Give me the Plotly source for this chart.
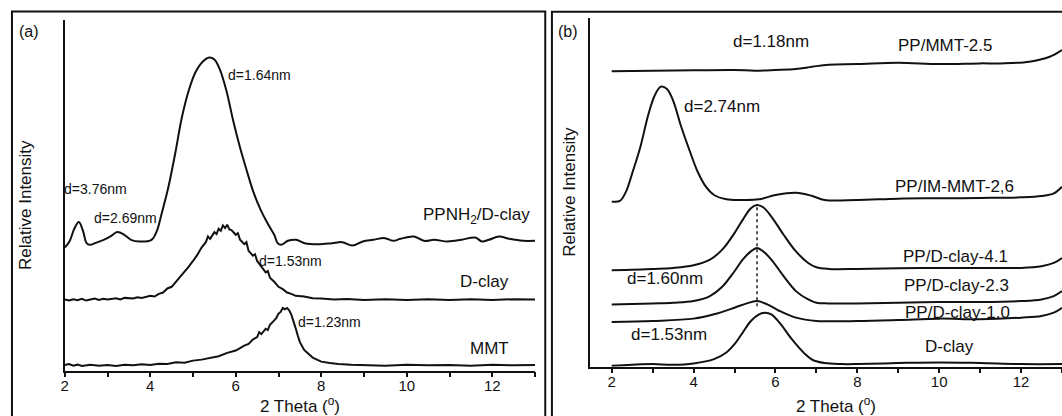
import plotly.graph_objects as go

FONT = "Liberation Sans, Arial, Helvetica, sans-serif"

# ---------------- Panel (a) data : 2 Theta (deg) vs relative intensity ----------------
a_ppnh2_x = [2.0, 2.11, 2.23, 2.33, 2.43, 2.51, 2.59, 2.71, 2.91, 3.07, 3.23, 3.39, 3.55, 3.75,
             4.03, 4.15, 4.26, 4.42, 4.58, 4.74, 4.90, 5.06, 5.22, 5.38, 5.50, 5.62, 5.78, 5.94,
             6.10, 6.26, 6.42, 6.58, 6.74, 6.90, 6.98, 7.06, 7.22, 7.41, 7.61, 7.93, 8.25, 8.49,
             8.73, 8.97, 9.21, 9.49, 9.69, 9.85, 10.17, 10.40, 10.64, 10.96, 11.28, 11.60, 11.76,
             11.92, 12.16, 12.40, 12.72, 13.0]
a_ppnh2_y = [36.7, 38.5, 42.5, 44.3, 41.5, 38.0, 37.5, 38.0, 39.0, 40.0, 41.3, 40.5, 39.0, 38.5,
             39.0, 41.5, 46.5, 54.5, 64.5, 75.5, 83.5, 89.0, 92.0, 93.3, 92.7, 90.0, 83.5, 74.5,
             66.5, 59.5, 53.0, 48.0, 44.0, 40.5, 38.0, 37.5, 38.7, 39.0, 38.0, 37.7, 38.0, 38.3,
             37.3, 38.5, 39.0, 39.5, 38.7, 39.3, 40.0, 38.7, 39.0, 38.5, 39.0, 39.7, 38.5,
             39.0, 40.0, 39.3, 38.7, 38.7]

a_dclay_x = [2.0, 2.1, 2.2, 2.3, 2.4, 2.5, 2.6, 2.7, 2.8, 2.9, 3.0, 3.2, 3.3, 3.4, 3.6, 3.7, 3.8,
             4.0, 4.1, 4.2, 4.3, 4.4, 4.5, 4.6, 4.7, 4.8, 4.9, 5.0, 5.1, 5.2, 5.3, 5.35, 5.4, 5.5,
             5.55, 5.6, 5.65, 5.7, 5.75, 5.8, 5.85, 5.9, 6.0, 6.05, 6.1, 6.2, 6.25, 6.3, 6.4, 6.45,
             6.5, 6.6, 6.7, 6.75, 6.8, 6.9, 7.0, 7.1, 7.2, 7.3, 7.4, 7.6, 7.8, 8.0, 8.3, 8.6, 9.0,
             9.5, 10.0, 10.5, 11.0, 11.5, 12.0, 12.5, 13.0]
a_dclay_y = [21.2, 20.9, 21.3, 21.0, 21.4, 20.9, 21.2, 21.5, 21.1, 21.4, 21.2, 21.6, 21.2, 21.7,
             21.5, 21.9, 21.7, 22.3, 22.1, 22.9, 23.3, 24.5, 25.0, 26.5, 27.7, 29.5, 31.0, 32.7,
             34.5, 36.7, 38.3, 40.0, 39.3, 41.3, 40.7, 42.3, 41.7, 43.3, 42.5, 43.5, 42.1, 41.9,
             40.5, 41.0, 39.0, 37.7, 38.3, 35.7, 34.3, 34.7, 32.7, 31.0, 29.3, 29.7, 27.7, 26.5,
             25.0, 24.3, 23.3, 22.9, 22.3, 22.1, 21.6, 21.5, 21.2, 21.4, 21.1, 21.3, 21.1, 21.3,
             21.1, 21.3, 21.1, 21.3, 21.2]

a_mmt_x = [2.0, 2.1, 2.2, 2.3, 2.4, 2.6, 2.8, 3.0, 3.2, 3.4, 3.6, 3.8, 4.0, 4.2, 4.4, 4.6, 4.8,
           5.0, 5.2, 5.4, 5.6, 5.8, 6.0, 6.1, 6.2, 6.3, 6.4, 6.5, 6.55, 6.6, 6.7, 6.75, 6.8, 6.9,
           6.95, 7.0, 7.05, 7.1, 7.15, 7.2, 7.25, 7.3, 7.35, 7.4, 7.45, 7.5, 7.6, 7.7, 7.8, 7.9,
           8.0, 8.2, 8.4, 8.7, 9.0, 9.5, 10.0, 10.5, 11.0, 11.5, 12.0, 12.5, 13.0]
a_mmt_y = [1.7, 2.0, 1.5, 1.8, 1.4, 1.8, 1.5, 1.7, 1.4, 1.8, 1.6, 1.9, 1.7, 2.1, 2.0, 2.5, 2.4,
           3.0, 3.3, 3.9, 4.3, 5.3, 6.0, 6.7, 7.5, 8.0, 9.3, 10.0, 11.5, 10.9, 12.5, 12.1, 13.7,
           15.0, 15.7, 17.0, 17.5, 18.7, 18.3, 18.7, 18.0, 16.7, 15.0, 12.7, 10.5, 8.5, 6.2, 4.9,
           3.9, 3.3, 2.7, 2.3, 2.0, 1.8, 1.7, 1.5, 1.8, 1.6, 1.7, 1.5, 1.8, 1.6, 1.7]

a_labels = ["d=3.76nm", "d=2.69nm", "d=1.64nm", "PPNH<sub>2</sub>/D-clay", "D-clay",
            "d=1.53nm", "d=1.23nm", "MMT"]
a_label_x = [2.73, 3.43, 6.56, 11.63, 11.83, 7.28, 8.19, 11.93]
a_label_y = [54.0, 45.5, 88.0, 46.0, 26.7, 32.7, 14.5, 6.5]
a_label_size = [14, 14, 14, 17, 17, 14, 14, 17]

# ---------------- Panel (b) data ----------------
b_mmt25_x = [2.0, 3.0, 4.0, 5.0, 5.5, 6.0, 6.5, 6.9, 7.3, 8.0, 9.0, 10.0, 11.0, 11.5, 12.2, 12.7, 13.0]
b_mmt25_y = [89.1, 89.3, 89.4, 89.5, 89.3, 89.5, 89.8, 90.5, 91.1, 91.3, 91.7, 91.3, 91.5, 91.5,
             92.0, 93.5, 95.5]

b_im_x = [2.0, 2.2, 2.35, 2.5, 2.7, 2.9, 3.05, 3.2, 3.35, 3.5, 3.7, 3.9, 4.1, 4.3, 4.5, 4.8, 5.2,
          5.6, 6.0, 6.5, 6.9, 7.2, 8.0, 9.0, 10.0, 11.0, 12.0, 12.5, 12.8, 13.0]
b_im_y = [49.8, 50.0, 52.8, 58.3, 66.3, 76.3, 81.8, 84.5, 83.8, 80.3, 72.3, 65.3, 58.8, 54.3,
          51.8, 50.5, 50.3, 50.5, 51.8, 52.5, 51.5, 50.3, 50.3, 50.7, 50.8, 50.9, 51.1, 51.5,
          52.3, 54.3]

b_dc_x = [2.0, 3.0, 3.5, 4.0, 4.4, 4.7, 5.0, 5.2, 5.4, 5.55, 5.7, 5.9, 6.2, 6.5, 6.8, 7.0, 7.3,
          8.0, 9.0, 10.0, 11.0, 12.0, 12.5, 12.8, 13.0]
b_dc41_y = [29.1, 29.5, 29.8, 30.6, 32.3, 35.3, 40.3, 44.3, 47.8, 48.8, 48.1, 45.3, 39.8, 34.8,
            31.3, 30.0, 29.5, 29.5, 29.7, 29.8, 29.8, 29.8, 30.3, 31.3, 32.8]
b_dc23_y = [18.8, 19.1, 19.3, 19.8, 21.3, 24.1, 28.8, 32.3, 34.8, 35.8, 34.8, 32.3, 27.3, 22.8,
            20.3, 19.3, 19.1, 19.1, 19.3, 19.5, 19.5, 19.8, 20.3, 21.3, 22.8]

b_dc10_x = [2.0, 3.0, 4.0, 4.5, 5.0, 5.3, 5.55, 5.8, 6.1, 6.5, 7.0, 8.0, 9.0, 10.0, 11.0, 12.0,
            12.5, 12.8, 13.0]
b_dc10_y = [13.5, 13.8, 14.5, 15.8, 17.8, 19.1, 19.8, 18.8, 16.8, 14.8, 13.8, 13.8, 14.1, 14.5,
            14.3, 14.8, 15.3, 16.3, 17.8]

b_dclay_x = [2.0, 2.5, 3.0, 3.5, 4.0, 4.5, 4.8, 5.0, 5.2, 5.4, 5.6, 5.75, 5.9, 6.1, 6.4, 6.7,
             6.9, 7.2, 7.6, 8.0, 9.0, 10.0, 11.0, 12.0, 13.0]
b_dclay_y = [0.3, 0.6, 0.8, 0.6, 1.0, 2.3, 4.3, 6.8, 10.3, 13.8, 15.8, 16.3, 15.8, 13.3, 8.3,
             4.1, 2.1, 1.1, 0.8, 0.8, 1.1, 1.3, 1.1, 0.8, 0.8]

b_guide_x = [5.55, 5.55]
b_guide_y = [48.1, 17.3]

b_labels = ["d=1.18nm", "PP/MMT-2.5", "d=2.74nm", "PP/IM-MMT-2,6", "PP/D-clay-4.1",
            "d=1.60nm", "PP/D-clay-2.3", "PP/D-clay-1.0", "d=1.53nm", "D-clay"]
b_label_x = [5.9, 10.15, 4.7, 10.38, 10.39, 3.29, 10.42, 10.45, 3.40, 10.24]
b_label_y = [98.1, 96.8, 78.5, 54.3, 33.3, 26.5, 24.5, 16.3, 9.8, 6.0]

x_tick_vals = [2, 4, 6, 8, 10, 12]

# ---------------- Figure ----------------
W, H = 1062, 416
fig = go.Figure()

LINE = dict(color="#111111", width=2)


def add_curve(x, y, xa, ya, shape="spline"):
    fig.add_trace(go.Scatter(x=x, y=y, mode="lines", xaxis=xa, yaxis=ya,
                             line=dict(LINE, shape=shape), showlegend=False,
                             hoverinfo="skip"))


add_curve(a_ppnh2_x, a_ppnh2_y, "x", "y")
add_curve(a_dclay_x, a_dclay_y, "x", "y", "linear")
add_curve(a_mmt_x, a_mmt_y, "x", "y", "linear")

for yy, xx in [(b_mmt25_y, b_mmt25_x), (b_im_y, b_im_x), (b_dc41_y, b_dc_x),
               (b_dc23_y, b_dc_x), (b_dc10_y, b_dc10_x), (b_dclay_y, b_dclay_x)]:
    add_curve(xx, yy, "x2", "y2")

fig.add_trace(go.Scatter(x=b_guide_x, y=b_guide_y, mode="lines", xaxis="x2", yaxis="y2",
                         line=dict(color="#222222", width=1.5, dash="dot"),
                         showlegend=False, hoverinfo="skip"))

annotations = []
for t, x, y, s in zip(a_labels, a_label_x, a_label_y, a_label_size):
    annotations.append(dict(text=t, x=x, y=y, xref="x", yref="y", showarrow=False,
                            xanchor="center", yanchor="middle",
                            font=dict(size=s, family=FONT, color="#111")))
for t, x, y in zip(b_labels, b_label_x, b_label_y):
    annotations.append(dict(text=t, x=x, y=y, xref="x2", yref="y2", showarrow=False,
                            xanchor="center", yanchor="middle",
                            font=dict(size=17, family=FONT, color="#111")))

# axis titles and panel letters
annotations += [
    dict(text="2 Theta (<sup>o</sup>)", x=297 / W, y=(H - 405) / H, xref="paper", yref="paper",
         showarrow=False, xanchor="center", yanchor="middle", font=dict(size=17, family=FONT, color="#111")),
    dict(text="2 Theta (<sup>o</sup>)", x=835 / W, y=(H - 405) / H, xref="paper", yref="paper",
         showarrow=False, xanchor="center", yanchor="middle", font=dict(size=17, family=FONT, color="#111")),
    dict(text="Relative Intensity", x=21 / W, y=(H - 205) / H, xref="paper", yref="paper",
         showarrow=False, textangle=-90, xanchor="center", yanchor="middle",
         font=dict(size=17, family=FONT, color="#111")),
    dict(text="Relative Intensity", x=567 / W, y=(H - 192) / H, xref="paper", yref="paper",
         showarrow=False, textangle=-90, xanchor="center", yanchor="middle",
         font=dict(size=17, family=FONT, color="#111")),
    dict(text="(a)", x=13 / W, y=(H - 32) / H, xref="paper", yref="paper", showarrow=False,
         xanchor="left", yanchor="middle", font=dict(size=16, family=FONT, color="#111")),
    dict(text="(b)", x=554 / W, y=(H - 32) / H, xref="paper", yref="paper", showarrow=False,
         xanchor="left", yanchor="middle", font=dict(size=16, family=FONT, color="#111")),
]

xaxis_common = dict(showline=True, linecolor="#111", linewidth=1.5, ticks="outside",
                    ticklen=5, tickwidth=1.5, tickcolor="#111", tickvals=x_tick_vals,
                    ticklabelstandoff=-4,
                    minor=dict(dtick=1, tick0=2, ticks="outside", ticklen=5, tickwidth=1.5,
                               tickcolor="#111", showgrid=False),
                    showgrid=False, zeroline=False,
                    tickfont=dict(size=15, family=FONT, color="#111"))
yaxis_common = dict(showline=True, linecolor="#111", linewidth=1.5, ticks="",
                    showticklabels=False, showgrid=False, zeroline=False)

fig.update_layout(
    width=W, height=H, margin=dict(l=0, r=0, t=0, b=0),
    paper_bgcolor="white", plot_bgcolor="white",
    xaxis=dict(xaxis_common, domain=[61 / W, 533 / W], range=[2, 13], anchor="y"),
    yaxis=dict(yaxis_common, domain=[(H - 370.7) / H, (H - 20) / H], range=[0, 104.5], anchor="x"),
    xaxis2=dict(xaxis_common, domain=[588.3 / W, 1.0], range=[1.472, 13], anchor="y2"),
    yaxis2=dict(yaxis_common, domain=[(H - 366.7) / H, (H - 18.3) / H], range=[0, 105.1], anchor="x2"),
    annotations=annotations,
    shapes=[
        dict(type="rect", xref="paper", yref="paper", x0=8 / W, x1=543.3 / W,
             y0=-0.1, y1=(H - 11.5) / H, line=dict(color="#111", width=2)),
        dict(type="rect", xref="paper", yref="paper", x0=550 / W, x1=1.1,
             y0=-0.1, y1=(H - 11.7) / H, line=dict(color="#111", width=2)),
    ],
    font=dict(family=FONT, color="#111"),
)

fig.write_html(
    "out.html",
    config={"displayModeBar": False},
    post_script="document.body.style.margin='0';document.body.style.overflow='hidden';",
)
